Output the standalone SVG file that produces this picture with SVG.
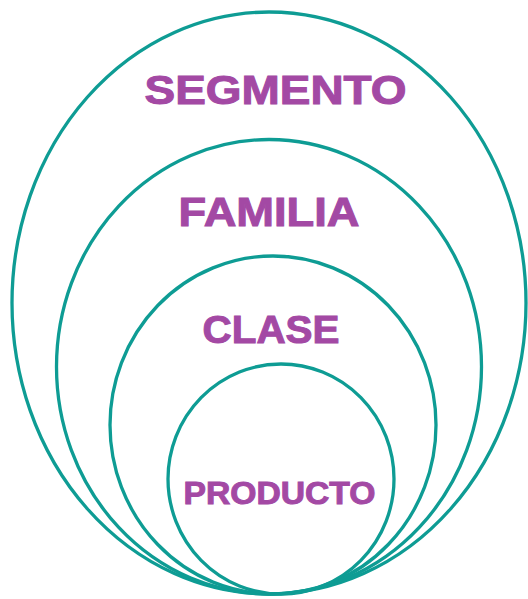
<svg xmlns="http://www.w3.org/2000/svg" width="528" height="599" viewBox="0 0 528 599">
<style>
.ring{fill:none;stroke:#0E9C94;stroke-width:3.3}
.lbl{font-family:"Liberation Sans",Arial,sans-serif;font-weight:bold;fill:#A349A4;stroke:#A349A4;stroke-width:1;text-anchor:middle}
</style>
<rect width="528" height="599" fill="#fff"/>
<g id="segmento"><ellipse class="ring" cx="269" cy="303" rx="257" ry="291"/><text class="lbl" x="275.5" y="104" font-size="40" textLength="262" lengthAdjust="spacingAndGlyphs">SEGMENTO</text></g>
<g id="familia"><ellipse class="ring" cx="269" cy="366.75" rx="212.5" ry="227.25"/><text class="lbl" x="269" y="226" font-size="40" textLength="181" lengthAdjust="spacingAndGlyphs">FAMILIA</text></g>
<g id="clase"><ellipse class="ring" cx="273" cy="425" rx="163" ry="169"/><text class="lbl" x="271" y="343" font-size="38" textLength="137" lengthAdjust="spacingAndGlyphs">CLASE</text></g>
<g id="producto"><ellipse class="ring" cx="281" cy="479" rx="113" ry="115"/><text class="lbl" x="279.5" y="504" font-size="32" textLength="192" lengthAdjust="spacingAndGlyphs">PRODUCTO</text></g>
</svg>
